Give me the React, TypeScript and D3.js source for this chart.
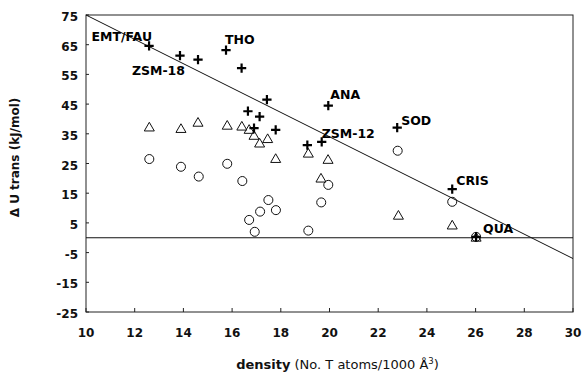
import React from "react";
import * as d3 from "d3";

// zeolite framework density vs. Delta U trans
const plusX = [12.59, 13.86, 14.6, 15.75, 16.39, 16.65, 16.9, 17.13, 17.43, 17.79, 19.09, 19.68, 19.95, 22.78, 25.04, 26.02];
const plusY = [64.6, 61.3, 60.0, 63.2, 57.1, 42.6, 36.9, 40.8, 46.5, 36.3, 31.2, 32.3, 44.5, 37.1, 16.4, 0.3];

const triX = [12.6, 13.9, 14.6, 15.8, 16.4, 16.7, 16.9, 17.13, 17.46, 17.79, 19.13, 19.94, 19.65, 22.83, 25.04, 26.02];
const triY = [37.4, 36.9, 39.0, 38.0, 37.7, 36.6, 34.6, 32.0, 33.5, 26.8, 28.6, 26.5, 20.2, 7.7, 4.4, 0.3];

const circX = [12.6, 13.9, 14.63, 15.8, 16.42, 17.49, 17.15, 17.8, 16.7, 16.93, 19.13, 19.66, 19.95, 22.8, 25.04, 26.02];
const circY = [26.5, 23.9, 20.6, 24.9, 19.1, 12.7, 8.8, 9.3, 6.0, 2.0, 2.4, 11.9, 17.8, 29.3, 12.1, 0.3];

const trendX = [10, 30];
const trendY = [75, -7];

const labelNames = ["EMT/FAU", "ZSM-18", "THO", "ANA", "ZSM-12", "SOD", "CRIS", "QUA"];
const labelPoint = [0, 1, 3, 12, 11, 13, 14, 15]; // index into plus arrays

const xTicks = [10, 12, 14, 16, 18, 20, 22, 24, 26, 28, 30];
const yTicks = [75, 65, 55, 45, 35, 25, 15, 5, -5, -15, -25];

// label placement relative to the point (px)
const labelOffset: Record<string, [number, number, string]> = {
  "EMT/FAU": [3, -5, "end"],
  "ZSM-18": [5, 19, "end"],
  THO: [-1, -6, "start"],
  ANA: [2, -7, "start"],
  "ZSM-12": [0, -4, "start"],
  SOD: [4, -3, "start"],
  CRIS: [4, -4, "start"],
  QUA: [7, -4, "start"],
};

const W = 584;
const H = 375;
const margin = { left: 86, right: 11, top: 15, bottom: 63 };

export default function App() {
  const x = d3.scaleLinear().domain([10, 30]).range([margin.left, W - margin.right]);
  const y = d3.scaleLinear().domain([-25, 75]).range([H - margin.bottom, margin.top]);

  const plusPath = d3.symbol(d3.symbolPlus, 30)()!;
  const triPath = d3.symbol(d3.symbolTriangle2, 72)()!;
  const circPath = d3.symbol(d3.symbolCircle, 64)()!;

  const trend = d3
    .line<number>()
    .x((d) => x(d))
    .y((_, i) => y(trendY[i]))(trendX)!;

  const x0 = x.range()[0];
  const x1 = x.range()[1];
  const y0 = y.range()[0];
  const y1 = y.range()[1];

  const font = "'DejaVu Sans', Verdana, sans-serif";

  return (
    <svg
      width={W}
      height={H}
      style={{ position: "absolute", left: 0, top: 0, background: "#fff" }}
      fontFamily={font}
    >
      {/* frame */}
      <rect x={x0} y={y1} width={x1 - x0} height={y0 - y1} fill="none" stroke="#222" strokeWidth={1} />

      {/* y ticks */}
      {yTicks.map((t) => (
        <g key={"y" + t}>
          <line x1={x0} x2={x0 + 3} y1={y(t)} y2={y(t)} stroke="#222" />
          <text x={78} y={y(t) + 6} textAnchor="end" fontSize={12} fontWeight="bold" fill="#111">
            {t}
          </text>
        </g>
      ))}

      {/* x ticks */}
      {xTicks.map((t) => (
        <g key={"x" + t}>
          <line x1={x(t)} x2={x(t)} y1={y0} y2={y0 - 4} stroke="#222" />
          <text x={x(t)} y={337} textAnchor="middle" fontSize={12} fontWeight="bold" fill="#111">
            {t}
          </text>
        </g>
      ))}

      {/* zero line */}
      <line x1={x0} x2={x1} y1={y(0)} y2={y(0)} stroke="#111" strokeWidth={1.1} />

      {/* trend line */}
      <path d={trend} fill="none" stroke="#111" strokeWidth={1} />

      {/* circles */}
      {circX.map((d, i) => (
        <path
          key={"c" + i}
          d={circPath}
          transform={`translate(${x(d)},${y(circY[i])})`}
          fill="none"
          stroke="#111"
          strokeWidth={1}
        />
      ))}

      {/* triangles */}
      {triX.map((d, i) => (
        <path
          key={"t" + i}
          d={triPath}
          transform={`translate(${x(d)},${y(triY[i]) + 1.4})`}
          fill="none"
          stroke="#111"
          strokeWidth={1}
        />
      ))}

      {/* pluses */}
      {plusX.map((d, i) => (
        <path
          key={"p" + i}
          d={plusPath}
          transform={`translate(${x(d)},${y(plusY[i])})`}
          fill="none"
          stroke="#000"
          strokeWidth={2.2}
        />
      ))}

      {/* labels */}
      {labelNames.map((name, i) => {
        const p = labelPoint[i];
        const [dx, dy, anchor] = labelOffset[name];
        return (
          <text
            key={name}
            x={x(plusX[p]) + dx}
            y={y(plusY[p]) + dy}
            textAnchor={anchor}
            fontSize={12.5}
            fontWeight="bold"
            fill="#000"
          >
            {name}
          </text>
        );
      })}

      {/* axis titles */}
      <text
        transform={`translate(19,${(y0 + y1) / 2 - 6}) rotate(-90)`}
        textAnchor="middle"
        fontSize={12}
        fontWeight="bold"
        fill="#111"
      >
        {"Δ U trans (kJ/mol)"}
      </text>
      <text x={(x0 + x1) / 2 + 8} y={369} textAnchor="middle" fontSize={13} fill="#111">
        <tspan fontWeight="bold">density</tspan>
        <tspan> (No. T atoms/1000 Å</tspan>
        <tspan fontSize={8.5} dy={-5}>3</tspan>
        <tspan dy={5}>)</tspan>
      </text>
    </svg>
  );
}
